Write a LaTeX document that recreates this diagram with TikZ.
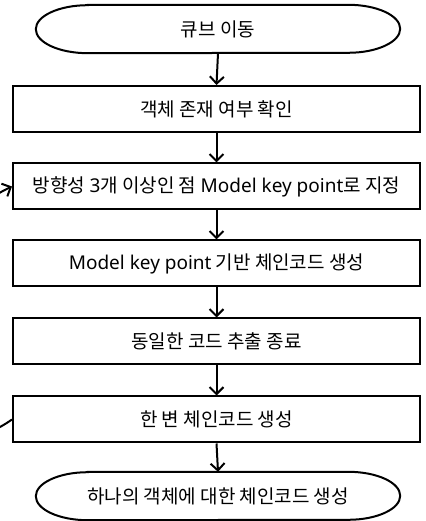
\documentclass[tikz,border=0pt]{standalone}
\usepackage{fontspec}
\setmainfont{Noto Sans CJK KR}
\newfontfamily\latinfont{Noto Sans}
\usetikzlibrary{arrows.meta}
\begin{document}
\begin{tikzpicture}[x=1pt,y=1pt,
  every node/.style={font=\fontsize{19}{22}\selectfont, inner sep=0pt},
  procbox/.style={draw, line width=2pt, minimum width=407pt, minimum height=46pt},
  termnode/.style={minimum width=364pt, minimum height=48pt},
  flow/.style={line width=2pt, -{Straight Barb[length=7pt,width=14pt,line width=2pt]}},
  outline/.style={line width=2pt}
]
\useasboundingbox (0,0) rectangle (425,521);
\clip (0,0) rectangle (425,521);
\node[termnode] (t1) at (218,492) {큐브 이동};
\node[procbox] (b2) at (216.5,412) {객체 존재 여부 확인};
\node[procbox] (b3) at (216.5,334.5) {방향성 {\latinfont 3}개 이상인 점 {\latinfont Model key point}로 지정};
\node[procbox] (b4) at (216.5,257.5) {{\latinfont Model key point} 기반 체인코드 생성};
\node[procbox] (b5) at (216.5,179.5) {동일한 코드 추출 종료};
\node[procbox] (b6) at (216.5,101.5) {한 변 체인코드 생성};
\node[termnode] (t7) at (218,25) {하나의 객체에 대한 체인코드 생성};
\foreach \t in {t1,t7}{
  \draw[outline] ([xshift=52pt]\t.north west) -- ([xshift=-52pt]\t.north east)
    arc[start angle=90,end angle=-90,x radius=52pt,y radius=24pt]
    -- ([xshift=52pt]\t.south west)
    arc[start angle=270,end angle=90,x radius=52pt,y radius=24pt] -- cycle;
}
\draw[flow] (t1.south) -- (b2.north);
\draw[flow] (b2.south) -- (b3.north);
\draw[flow] (b3.south) -- (b4.north);
\draw[flow] (b4.south) -- (b5.north);
\draw[flow] (b5.south) -- (b6.north);
\draw[flow] (b6.south) -- (t7.north);
\draw[flow] (b6.west) to[out=215,in=205,looseness=1.6] (b3.west);
\end{tikzpicture}
\end{document}
